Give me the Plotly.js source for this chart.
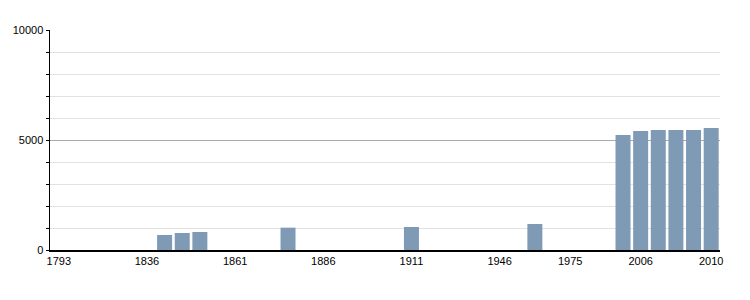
<!DOCTYPE html>
<html><head><meta charset="utf-8">
<script src="https://cdn.plot.ly/plotly-3.0.1.min.js"></script>
<style>body{margin:0;background:#fff}#c{width:750px;height:300px}</style>
</head><body><div id="c"></div>
<script>
const years = ["1793","1800","1806","1821","1831","1836","1841","1846","1851","1856","1861","1866","1872","1876","1881","1886","1891","1896","1901","1906","1911","1921","1926","1931","1936","1946","1954","1962","1968","1975","1982","1990","1999","2006","2007","2008","2009","2010"];
const population = [null,null,null,null,null,null,682,773,818,null,null,null,null,1015,null,null,null,null,null,null,1045,null,null,null,null,null,null,1182,null,null,null,null,5227,5409,5455,5455,5455,5545];
const tickYears = ["1793","1836","1861","1886","1911","1946","1975","2006","2010"];

Plotly.newPlot('c', [{
  type: 'bar', x: years, y: population,
  marker: {color: '#7f9ab4'}, hoverinfo: 'x+y'
}], {
  width: 750, height: 300,
  margin: {l: 50, r: 30, t: 30, b: 50},
  paper_bgcolor: '#fff', plot_bgcolor: '#fff',
  bargap: 0.15,
  showlegend: false,
  font: {family: 'Liberation Sans, Arial, sans-serif', size: 11, color: '#000'},
  xaxis: {
    type: 'category', tickvals: tickYears, ticktext: tickYears,
    showline: true, linecolor: '#000', linewidth: 1.5,
    showgrid: false, ticks: '', tickangle: 0, zeroline: false, automargin: false
  },
  yaxis: {
    range: [0, 10000], tickvals: [0, 5000, 10000], ticktext: ['0','5000','10000'],
    showline: true, linecolor: '#000', linewidth: 1.5,
    ticks: 'outside', ticklen: 3, tickcolor: '#000',
    gridcolor: '#aaaaaa', gridwidth: 1, zeroline: false,
    minor: {dtick: 1000, tick0: 0, showgrid: true, gridcolor: '#e2e2e2', ticks: 'outside', ticklen: 3, tickcolor: '#000'},
    automargin: false
  }
}, {displayModeBar: false, staticPlot: true});
</script></body></html>
